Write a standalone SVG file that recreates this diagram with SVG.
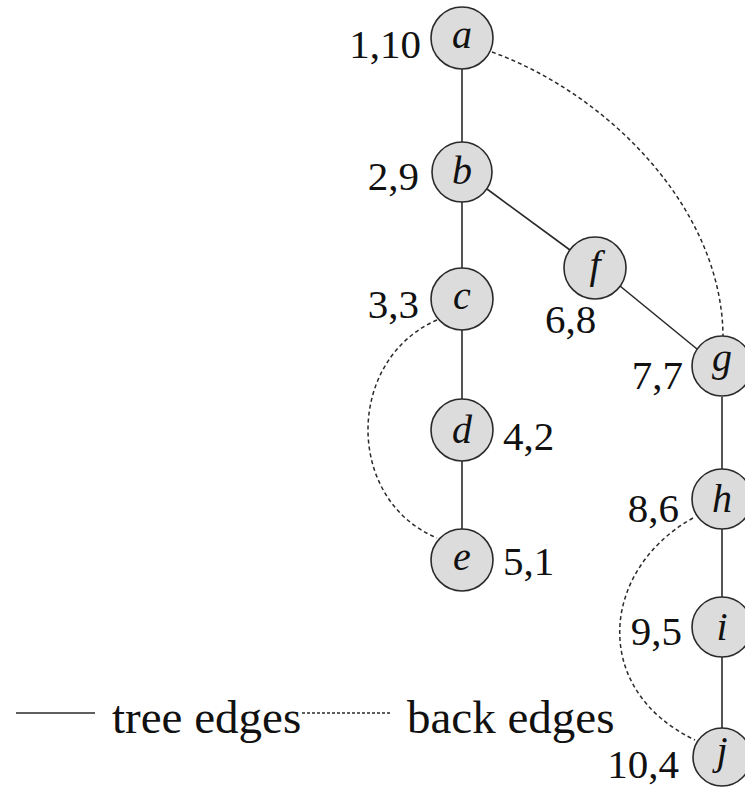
<svg xmlns="http://www.w3.org/2000/svg" width="745" height="787" viewBox="0 0 745 787">
<style>
.node circle{fill:#dcdcdc;stroke:#2a2a2a;stroke-width:1.6}
.node text.l{font-family:"Liberation Serif",serif;font-style:italic;font-size:40px;fill:#111;text-anchor:middle}
.lab{font-family:"Liberation Serif",serif;font-size:41px;fill:#111}
.tree{stroke:#2a2a2a;stroke-width:1.6;fill:none}
.back{stroke:#2a2a2a;stroke-width:1.5;fill:none;stroke-dasharray:4 3}
.leg{font-family:"Liberation Serif",serif;font-size:47px;fill:#111}
</style>
<rect width="745" height="787" fill="#ffffff"/>
<g id="connectors">
<line class="tree" x1="462" y1="69" x2="462" y2="142"/>
<line class="tree" x1="462" y1="202" x2="462" y2="268"/>
<line class="tree" x1="462" y1="330" x2="462" y2="399"/>
<line class="tree" x1="462" y1="461" x2="462" y2="530"/>
<line class="tree" x1="487" y1="189" x2="570" y2="250"/>
<line class="tree" x1="620" y1="286" x2="697" y2="349"/>
<line class="tree" x1="722" y1="397" x2="722" y2="469"/>
<line class="tree" x1="722" y1="529" x2="722" y2="597"/>
<line class="tree" x1="722" y1="657" x2="722" y2="730"/>
<path class="back" d="M492,52 C610,95 722,210 723,336"/>
<path class="back" d="M437,320 C345,360 345,500 437,538"/>
<path class="back" d="M693,518 C600,570 590,690 695,740"/>
</g>
<g id="a" class="node"><circle cx="462" cy="38" r="31"/><text class="l" x="462" y="48">a</text><text class="lab" x="421" y="58" text-anchor="end">1,10</text></g>
<g id="b" class="node"><circle cx="462" cy="172" r="30"/><text class="l" x="462" y="184">b</text><text class="lab" x="419" y="190" text-anchor="end">2,9</text></g>
<g id="c" class="node"><circle cx="462" cy="299" r="31"/><text class="l" x="462" y="309">c</text><text class="lab" x="419" y="318" text-anchor="end">3,3</text></g>
<g id="d" class="node"><circle cx="462" cy="430" r="31"/><text class="l" x="462" y="443">d</text><text class="lab" x="503" y="450">4,2</text></g>
<g id="e" class="node"><circle cx="462" cy="560" r="31"/><text class="l" x="462" y="570">e</text><text class="lab" x="503" y="575">5,1</text></g>
<g id="f" class="node"><circle cx="595" cy="268" r="31"/><text class="l" x="595" y="278">f</text><text class="lab" x="545" y="333">6,8</text></g>
<g id="g" class="node"><circle cx="722" cy="366" r="30"/><text class="l" x="722" y="371">g</text><text class="lab" x="683" y="389" text-anchor="end">7,7</text></g>
<g id="h" class="node"><circle cx="722" cy="499" r="30"/><text class="l" x="722" y="512">h</text><text class="lab" x="679" y="522" text-anchor="end">8,6</text></g>
<g id="i" class="node"><circle cx="722" cy="627" r="30"/><text class="l" x="722" y="640">i</text><text class="lab" x="682" y="645" text-anchor="end">9,5</text></g>
<g id="j" class="node"><circle cx="722" cy="757" r="29"/><text class="l" x="722" y="764">j</text><text class="lab" x="679" y="778" text-anchor="end">10,4</text></g>
<g id="legend">
<line x1="16" y1="713" x2="95" y2="713" stroke="#2a2a2a" stroke-width="1.6"/>
<text class="leg" x="112" y="733">tree edges</text>
<line x1="302" y1="713" x2="390" y2="713" stroke="#2a2a2a" stroke-width="1.4" stroke-dasharray="3 2"/>
<text class="leg" x="407" y="733">back edges</text>
</g>
</svg>
